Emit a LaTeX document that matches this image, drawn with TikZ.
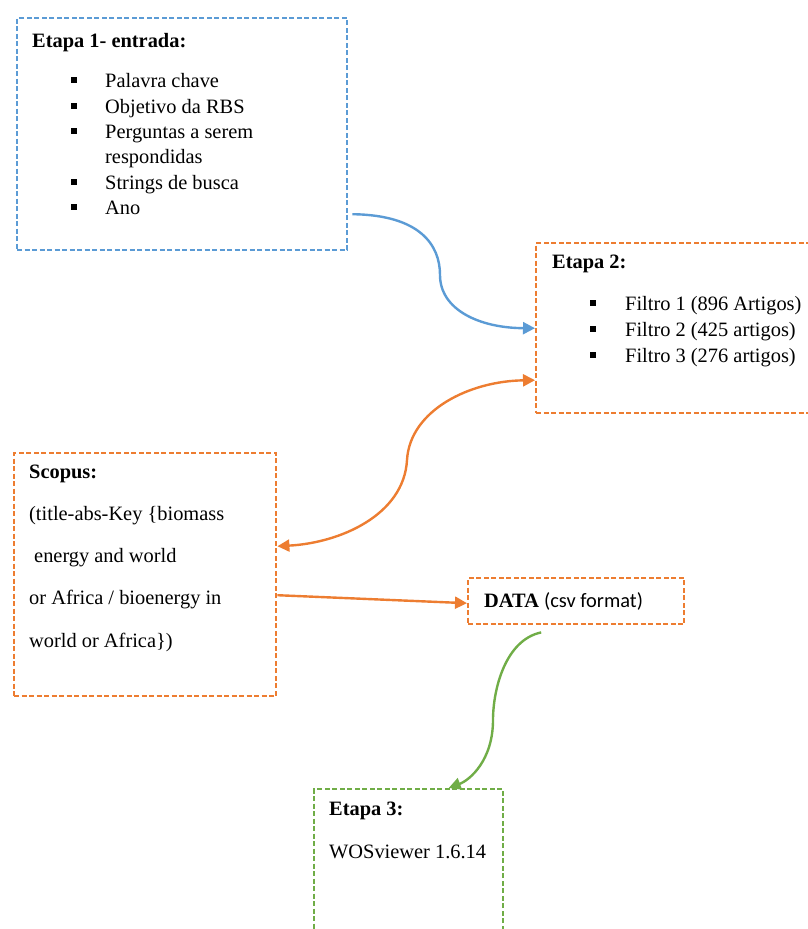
\documentclass[tikz,border=0pt]{standalone}
\usepackage{fontspec}
\setmainfont{Liberation Serif}
\newfontfamily\calibri{Carlito}
\usetikzlibrary{arrows.meta}
\definecolor{cblue}{HTML}{5B9BD5}
\definecolor{corange}{HTML}{ED7D31}
\definecolor{cgreen}{HTML}{70AD47}
\begin{document}
\begin{tikzpicture}[x=1pt,y=-1pt,
  font=\fontsize{20.4}{24}\selectfont,
  box/.style={draw=#1,line width=2.4pt,dash pattern=on 5pt off 2.5pt,anchor=north west,inner sep=0pt},
  txt/.style={anchor=base west,inner sep=0pt},
  bul/.style={fill=black,inner sep=0pt,minimum size=6pt},
  conn/.style={line width=2.4pt,-{Triangle[length=12pt,width=12pt]}},
  dconn/.style={line width=2.4pt,{Triangle[length=12pt,width=12pt]}-{Triangle[length=12pt,width=12pt]}}]
\useasboundingbox (0,0) rectangle (808,929);
\clip (0,0) rectangle (808,929);
% boxes
\node[box=cblue,minimum width=330pt,minimum height=232pt] (e1) at (16,17) {};
\node[box=corange,minimum width=300pt,minimum height=170pt] (e2) at (535,242) {};
\node[box=corange,minimum width=262pt,minimum height=243pt] (sc) at (13,452) {};
\node[box=corange,minimum width=216pt,minimum height=46pt] (data) at (467,577) {};
\node[box=cgreen,minimum width=189pt,minimum height=200pt] (e3) at (313,788) {};
% Etapa 1 text
\node[txt] (t1) at (32,47) {\bfseries Etapa 1- entrada:};
\node[txt] (t1a) at (105,87) {Palavra chave};
\node[txt] (t1b) at (105,113) {Objetivo da RBS};
\node[txt] (t1c) at (105,138) {Perguntas a serem};
\node[txt] (t1d) at (105,163) {respondidas};
\node[txt] (t1e) at (105,189) {Strings de busca};
\node[txt] (t1f) at (105,214) {Ano};
\node[bul] (b1a) at (73.5,80) {};
\node[bul] (b1b) at (73.5,106) {};
\node[bul] (b1c) at (73.5,131) {};
\node[bul] (b1e) at (73.5,182) {};
\node[bul] (b1f) at (73.5,207) {};
% Etapa 2 text
\node[txt] (t2) at (552,268) {\bfseries Etapa 2:};
\node[txt] (t2a) at (625,310) {Filtro 1 (896 Artigos)};
\node[txt] (t2b) at (625,336) {Filtro 2 (425 artigos)};
\node[txt] (t2c) at (625,362) {Filtro 3 (276 artigos)};
\node[bul] (b2a) at (593,303) {};
\node[bul] (b2b) at (593,329) {};
\node[bul] (b2c) at (593,355) {};
% Scopus text
\node[txt] (s0) at (29,478) {\bfseries Scopus:};
\node[txt] (s1) at (29,520) {(title-abs-Key \{biomass};
\node[txt] (s2) at (34,562) {energy and world};
\node[txt] (s3) at (29,604) {or Africa / bioenergy in};
\node[txt] (s4) at (29,647) {world or Africa\})};
% DATA text
\node[txt] (d1) at (484,607) {\bfseries DATA {\mdseries\calibri (csv format)}};
% Etapa 3 text
\node[txt] (t3) at (329,815) {\bfseries Etapa 3:};
\node[txt] (t3a) at (329,858) {WOSviewer 1.6.14};
% connectors
\draw[conn,cblue] ([shift={(4pt,-80pt)}]e1.east) .. controls (420,215) and (440,245) .. (440,275)
  .. controls (440,310) and (480,328) .. (e2.west);
\draw[dconn,corange] ([yshift=-52pt]e2.west) .. controls (470,381) and (410,410) .. (407,460)
  .. controls (404,515) and (340,543) .. ([yshift=28.5pt]sc.east);
\draw[conn,corange] ([yshift=-20.5pt]sc.east) -- ([yshift=-2pt]data.west);
\draw[conn,cgreen] ([shift={(-35pt,-7pt)}]data.south) .. controls (505,640) and (493,690) .. (493,720)
  .. controls (493,760) and (470,780) .. ([xshift=40pt]e3.north);
\end{tikzpicture}
\end{document}
